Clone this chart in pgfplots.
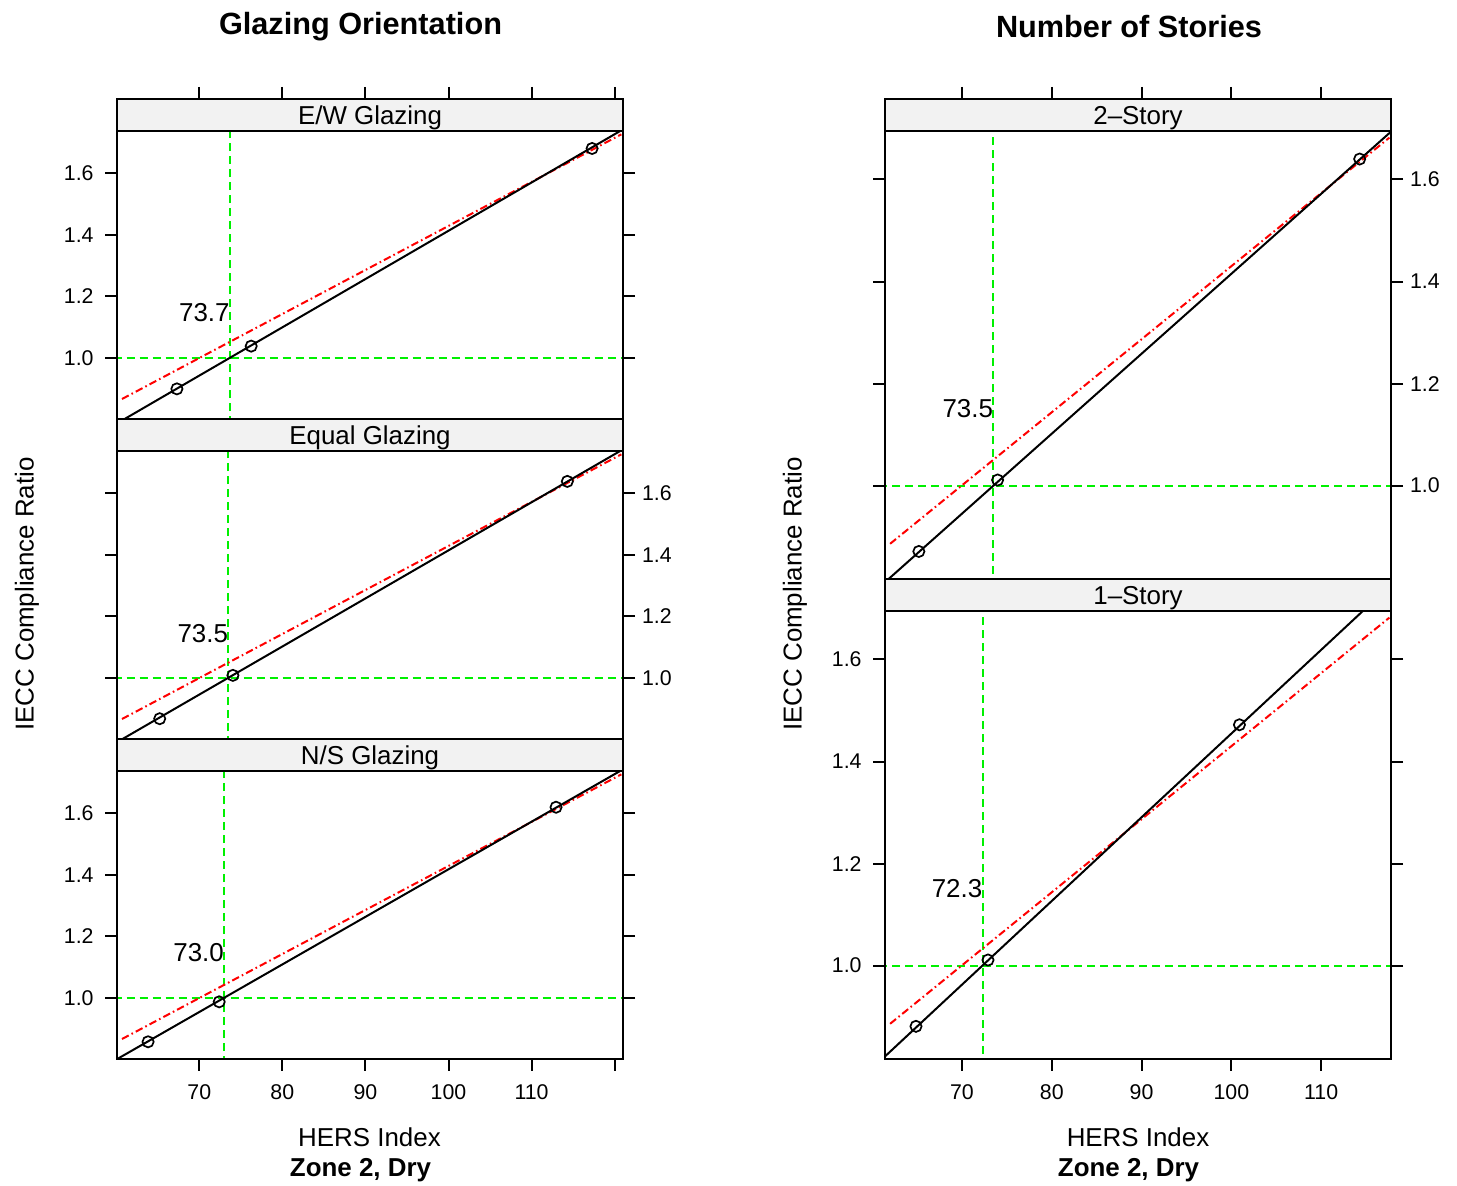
\documentclass[border=0pt]{standalone}
\usepackage{fontspec}
\setmainfont{Liberation Sans}
\usepackage{pgfplots}
\pgfplotsset{compat=1.18}
\definecolor{stripgray}{RGB}{242,242,242}
\definecolor{lgreen}{RGB}{0,240,0}
\definecolor{lred}{RGB}{255,0,0}
\tikzset{
  fitline/.style={black, line width=1bp},
  refline/.style={lred, line width=1bp, dash pattern=on 3.8bp off 1.6bp on 0.8bp off 1.6bp},
  gline/.style={lgreen, line width=1bp, dash pattern=on 4bp off 2.5bp},
  pts/.style={only marks, mark=o, mark size=2.8bp, mark options={line width=0.85bp, black}},
}
\pgfplotsset{
  panel/.style={
    scale only axis, width=253bp, anchor=south west,
    axis line style={line width=1bp},
    tick style={line width=1bp, black},
    major tick length=6bp,
    tick align=outside,
    ytick={1.0,1.2,1.4,1.6}, yticklabels={1.0,1.2,1.4,1.6},
    tick label style={font=\fontsize{10.7}{12}\selectfont},
    yticklabel style={xshift=-2.2bp},
    xticklabel style={yshift=-3.5bp},
    axis on top,
  },
  leftcol/.style={panel, xmin=60.1, xmax=121.0, ymin=0.801, ymax=1.842, height=160bp,
    xtick={70,80,90,100,110,120}},
  rightcol/.style={panel, xmin=61.43, xmax=117.78, ymin=0.817, ymax=1.7577, height=240bp,
    xtick={70,80,90,100,110}},
  labright/.style={yticklabel pos=right, yticklabel style={xshift=2.2bp}},
}
\newcommand{\stripL}[1]{%
  \draw[line width=1bp, fill=stripgray] (rel axis cs:0,0.9) rectangle (rel axis cs:1,1);
  \node[anchor=base, inner sep=0pt, yshift=3.35bp, font=\fontsize{13}{15}\selectfont] at (rel axis cs:0.5,0.9) {#1};}
\newcommand{\stripR}[1]{%
  \draw[line width=1bp, fill=stripgray] (rel axis cs:0,0.93333) rectangle (rel axis cs:1,1);
  \node[anchor=base, inner sep=0pt, yshift=3.35bp, font=\fontsize{13}{15}\selectfont] at (rel axis cs:0.5,0.93333) {#1};}
\begin{document}
\begin{tikzpicture}
\path[use as bounding box] (0,0) rectangle (728.5bp,593bp);

% ---------- Left column ----------
% E/W Glazing (top)
\begin{axis}[leftcol, at={(58.5bp,383.5bp)}, xtick pos=upper, xticklabels={}]
  \addplot[gline] coordinates {(55,1.0) (125,1.0)};
  \addplot[gline] coordinates {(73.7,0.7) (73.7,1.738)};
  \addplot[refline] coordinates {(60.7,0.866) (120.8,1.727)};
  \addplot[fitline] coordinates {(60.0,0.785) (121.5,1.751)};
  \addplot[pts] coordinates {(67.31,0.899) (76.25,1.038) (117.28,1.681)};
  \node[anchor=east, inner sep=0pt, font=\fontsize{13}{15}\selectfont] at (axis cs:73.7,1.147) {73.7};
  \stripL{E/W Glazing}
\end{axis}

% Equal Glazing (middle)
\begin{axis}[leftcol, at={(58.5bp,223.5bp)}, xtick=\empty, labright]
  \addplot[gline] coordinates {(55,1.0) (125,1.0)};
  \addplot[gline] coordinates {(73.5,0.7) (73.5,1.738)};
  \addplot[refline] coordinates {(60.7,0.866) (120.8,1.727)};
  \addplot[fitline] coordinates {(60.0,0.789) (121.5,1.751)};
  \addplot[pts] coordinates {(65.24,0.867) (74.05,1.008) (114.30,1.639)};
  \node[anchor=east, inner sep=0pt, font=\fontsize{13}{15}\selectfont] at (axis cs:73.5,1.145) {73.5};
  \stripL{Equal Glazing}
\end{axis}

% N/S Glazing (bottom)
\begin{axis}[leftcol, at={(58.5bp,63.5bp)}, xtick pos=lower, xticklabels={70,80,90,100,110,{}}]
  \addplot[gline] coordinates {(55,1.0) (125,1.0)};
  \addplot[gline] coordinates {(73.0,0.7) (73.0,1.738)};
  \addplot[refline] coordinates {(60.7,0.866) (120.8,1.727)};
  \addplot[fitline] coordinates {(60.0,0.799) (121.5,1.751)};
  \addplot[pts] coordinates {(63.84,0.857) (72.40,0.987) (112.94,1.620)};
  \node[anchor=east, inner sep=0pt, font=\fontsize{13}{15}\selectfont] at (axis cs:73.0,1.147) {73.0};
  \stripL{N/S Glazing}
\end{axis}

% ---------- Right column ----------
% 2-Story (top)
\begin{axis}[rightcol, at={(442.5bp,303.5bp)}, xtick pos=upper, xticklabels={}, labright]
  \addplot[gline] coordinates {(55,1.0) (125,1.0)};
  \addplot[gline] coordinates {(73.5,0.7) (73.5,1.695)};
  \addplot[refline] coordinates {(62.0,0.886) (117.6,1.682)};
  \addplot[fitline] coordinates {(61.0,0.804) (118.5,1.705)};
  \addplot[pts] coordinates {(65.20,0.871) (73.97,1.011) (114.29,1.640)};
  \node[anchor=east, inner sep=0pt, font=\fontsize{13}{15}\selectfont] at (axis cs:73.5,1.151) {73.5};
  \stripR{2–Story}
\end{axis}

% 1-Story (bottom)
\begin{axis}[rightcol, at={(442.5bp,63.5bp)}, xtick pos=lower, xticklabels={70,80,90,100,110}]
  \addplot[gline] coordinates {(55,1.0) (125,1.0)};
  \addplot[gline] coordinates {(72.3,0.7) (72.3,1.695)};
  \addplot[refline] coordinates {(62.0,0.886) (117.6,1.682)};
  \addplot[fitline] coordinates {(61.0,0.815) (118.0,1.750)};
  \addplot[pts] coordinates {(64.88,0.881) (72.90,1.011) (100.90,1.472)};
  \node[anchor=east, inner sep=0pt, font=\fontsize{13}{15}\selectfont] at (axis cs:72.3,1.151) {72.3};
  \stripR{1–Story}
\end{axis}

% ---------- Titles and labels ----------
\node[font=\fontsize{15.4}{18}\selectfont\bfseries] at (180.25bp,579.5bp) {Glazing Orientation};
\node[font=\fontsize{15.4}{18}\selectfont\bfseries] at (564.5bp,579.5bp) {Number of Stories};
\node[font=\fontsize{13}{15}\selectfont] at (184.75bp,24.5bp) {HERS Index};
\node[font=\fontsize{13}{15}\selectfont] at (569bp,24.5bp) {HERS Index};
\node[font=\fontsize{13}{15}\selectfont\bfseries] at (180.25bp,7.8bp) {Zone 2, Dry};
\node[font=\fontsize{13}{15}\selectfont\bfseries] at (564.25bp,7.8bp) {Zone 2, Dry};
\node[font=\fontsize{13}{15}\selectfont, rotate=90] at (13.5bp,296bp) {IECC Compliance Ratio};
\node[font=\fontsize{13}{15}\selectfont, rotate=90] at (397.5bp,296bp) {IECC Compliance Ratio};
\end{tikzpicture}
\end{document}
